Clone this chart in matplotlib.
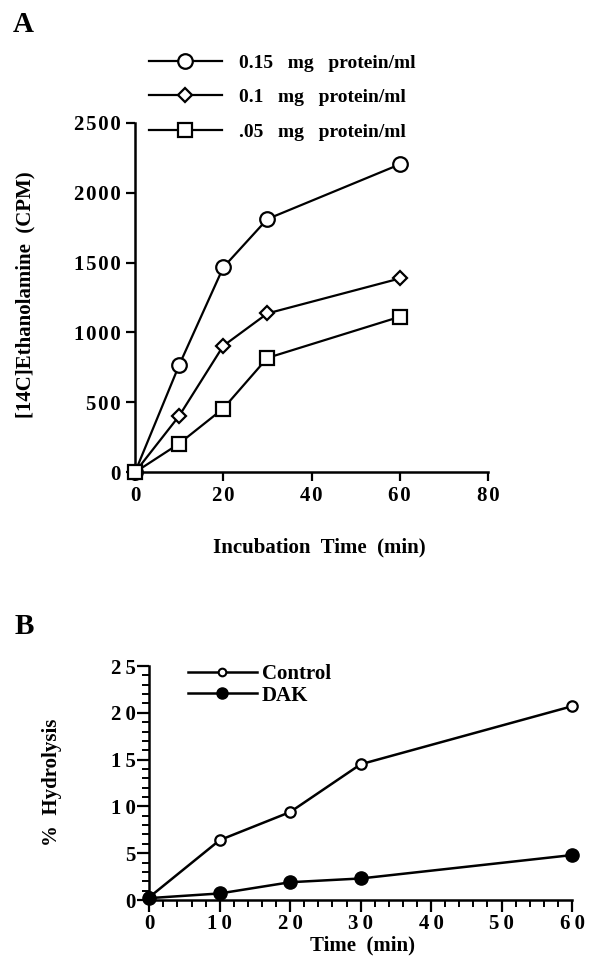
import matplotlib
matplotlib.use("Agg")
import matplotlib.pyplot as plt
from matplotlib.lines import Line2D
from matplotlib.ticker import MultipleLocator, FuncFormatter

# Panel A data: ethanolamine release vs incubation time
time_a = [0, 10, 20, 30, 60]
cpm_015 = [0, 766, 1465, 1811, 2202]
cpm_010 = [0, 403, 904, 1136, 1386]
cpm_005 = [0, 205, 456, 818, 1112]
labels_a = ["0.15   mg   protein/ml", "0.1   mg   protein/ml", ".05   mg   protein/ml"]

# Panel B data: % hydrolysis vs time
time_b = [0, 10, 20, 30, 60]
control = [0.3, 6.4, 9.4, 14.5, 20.7]
dak = [0.2, 0.7, 1.9, 2.3, 4.8]
labels_b = ["Control", "DAK"]

plt.rcParams['font.family'] = ['Liberation Serif', 'DejaVu Serif']
plt.rcParams['font.weight'] = 'bold'

W, H = 594, 963
fig = plt.figure(figsize=(W / 100, H / 100), dpi=100)


def px_axes(left, top, right, bottom):
    return [left / W, 1 - bottom / H, (right - left) / W, (bottom - top) / H]


def spaced_fmt(sep):
    # the printed figure has its digits set loosely
    return FuncFormatter(lambda v, p: sep.join(str(int(v))))


# ---------------- Panel A ----------------
axA = fig.add_axes(px_axes(135, 122.7, 488, 472.3))
line_kw = dict(color='black', lw=1.6, mec='black', mfc='white', mew=1.6, clip_on=False, zorder=3)
axA.plot(time_a, cpm_015, marker='o', ms=10.5, **line_kw)
axA.plot(time_a, cpm_010, marker='D', ms=6.8, **line_kw)
axA.plot(time_a, cpm_005, marker='s', ms=10.5, **line_kw)

axA.set_xlim(0, 80)
axA.set_ylim(0, 2500)
axA.xaxis.set_major_locator(MultipleLocator(20))
axA.yaxis.set_major_locator(MultipleLocator(500))
axA.xaxis.set_major_formatter(spaced_fmt("\u200a"))
axA.yaxis.set_major_formatter(spaced_fmt("\u200a"))
for s in ['top', 'right']:
    axA.spines[s].set_visible(False)
for s in ['left', 'bottom']:
    axA.spines[s].set_linewidth(1.8)
axA.tick_params(direction='out', length=6.5, width=1.6, labelsize=15, pad=3.5)
axA.set_xlabel("Incubation  Time  (min)", fontsize=15, fontweight='bold', va='center')
axA.set_ylabel("[14C]Ethanolamine  (CPM)", fontsize=15, fontweight='bold', va='center')
axA.xaxis.set_label_coords(0.521, -0.215)
axA.yaxis.set_label_coords(-0.311, 0.507)

handles_a = [
    Line2D([], [], color='black', lw=1.6, marker='o', ms=10.5, mfc='white', mec='black', mew=1.6),
    Line2D([], [], color='black', lw=1.6, marker='D', ms=6.8, mfc='white', mec='black', mew=1.6),
    Line2D([], [], color='black', lw=1.6, marker='s', ms=10.5, mfc='white', mec='black', mew=1.6),
]
fig.legend(handles_a, labels_a, loc='center left',
           bbox_to_anchor=(149 / W, 1 - 97.5 / H), frameon=False,
           fontsize=14, handlelength=3.75, handletextpad=0.9,
           labelspacing=0.86, borderpad=0, borderaxespad=0, numpoints=1)

fig.text(13 / W, 1 - 25 / H, "A", fontsize=21, fontweight='bold', ha='left', va='center')

# ---------------- Panel B ----------------
axB = fig.add_axes(px_axes(149.3, 666, 572, 900))
axB.plot(time_b, control, color='black', lw=1.8, marker='o', ms=7.5,
         mfc='white', mec='black', mew=1.6, clip_on=False, zorder=3)
axB.plot(time_b, dak, color='black', lw=1.8, marker='o', ms=9.5,
         mfc='black', mec='black', clip_on=False, zorder=3)

axB.set_xlim(0, 60)
axB.set_ylim(0, 25)
axB.xaxis.set_major_locator(MultipleLocator(10))
axB.xaxis.set_minor_locator(MultipleLocator(2))
axB.yaxis.set_major_locator(MultipleLocator(5))
axB.yaxis.set_minor_locator(MultipleLocator(1))
axB.xaxis.set_major_formatter(spaced_fmt("\u2009"))
axB.yaxis.set_major_formatter(spaced_fmt("\u2009"))
for s in ['top', 'right']:
    axB.spines[s].set_visible(False)
for s in ['left', 'bottom']:
    axB.spines[s].set_linewidth(1.8)
axB.tick_params(which='major', direction='out', length=8.5, width=1.6, labelsize=15, pad=1.5)
axB.tick_params(which='minor', direction='out', length=5, width=1.4)
axB.set_xlabel("Time  (min)", fontsize=15, fontweight='bold', va='center')
axB.set_ylabel("%  Hydrolysis", fontsize=15, fontweight='bold', va='center')
axB.xaxis.set_label_coords(0.5055, -0.194)
axB.yaxis.set_label_coords(-0.23, 0.504)

handles_b = [
    Line2D([], [], color='black', lw=1.8, marker='o', ms=5.5, mfc='white', mec='black', mew=1.5),
    Line2D([], [], color='black', lw=1.8, marker='o', ms=8, mfc='black', mec='black'),
]
fig.legend(handles_b, labels_b, loc='center left',
           bbox_to_anchor=(188 / W, 1 - 685 / H), frameon=False,
           fontsize=15, handlelength=3.3, handletextpad=0.25,
           labelspacing=0.05, borderpad=0, borderaxespad=0, numpoints=1)

fig.text(15 / W, 1 - 627 / H, "B", fontsize=21, fontweight='bold', ha='left', va='center')

fig.savefig("out.png", dpi=100)
